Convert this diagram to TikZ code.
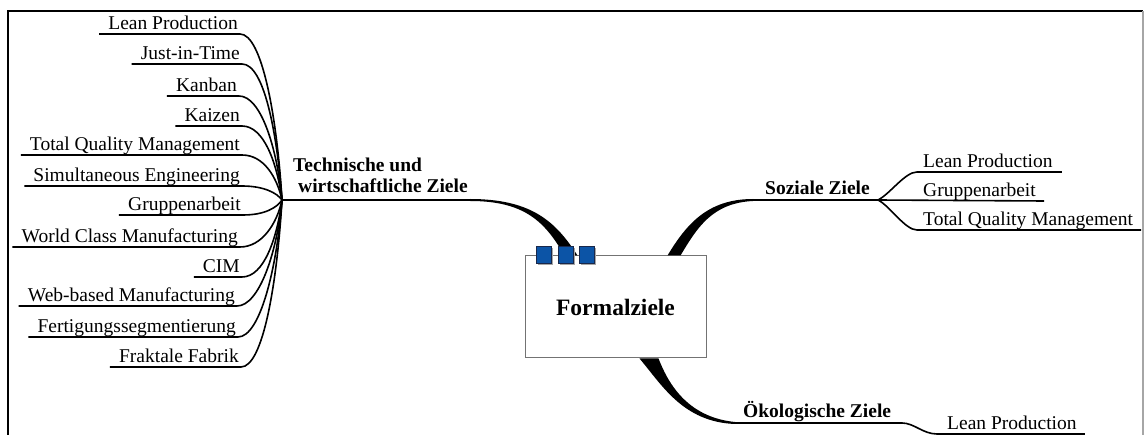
\documentclass[tikz,border=0pt]{standalone}
\usepackage{fontspec}
\setmainfont{Liberation Serif}
\usetikzlibrary{calc,shadows}
\definecolor{sqblue}{RGB}{12,84,166}
\definecolor{sqedge}{RGB}{25,40,75}
\tikzset{
  leaf/.style={font=\fontsize{19.5}{21}\selectfont, inner xsep=0pt, inner ysep=4pt, text height=13pt, text depth=0pt},
  mainlbl/.style={font=\fontsize{19.5}{21}\selectfont\bfseries, inner sep=0pt},
  twig/.style={line width=1.6pt, black},
  stem/.style={line width=2pt, black},
  wedge/.style={fill=black},
  sq/.style={draw=sqedge, fill=sqblue, minimum width=15pt, minimum height=17pt, inner sep=0pt, line width=0.8pt,
    drop shadow={shadow xshift=2pt, shadow yshift=-2pt, fill=black!35, opacity=1}},
  centerbox/.style={draw=black!55, fill=white, line width=1pt, minimum width=181pt, minimum height=102pt, inner sep=0pt,
    font=\fontsize{23.5}{26}\selectfont\bfseries},
}
\begin{document}
\begin{tikzpicture}[x=1pt,y=-1pt]
\useasboundingbox (0,0) rectangle (1144,435);
% frame
\draw[line width=1.5pt] (8,435) -- (8,11) -- (1143,11);
\draw[line width=1.2pt, black!35] (1143,11) -- (1143,435);

% central box
\node[centerbox] (box) at (615.5,307) {Formalziele};

% hubs and branch points
\coordinate (hubL) at (282,200);
\coordinate (techR) at (470,200);
\coordinate (sozL) at (753,200);
\coordinate (hubR) at (878,200);
\coordinate (okoL) at (733,423);
\coordinate (okoR) at (902,423);

% left main branch
\draw[stem] (hubL) -- (techR);
\fill[wedge] ($(techR)+(0,-1)$) .. controls (532,199) and (556,222) .. ($(box.north west)+(53,0)$)
  -- ($(box.north west)+(40,0)$) .. controls (545,222) and (525,201) .. ($(techR)+(0,1)$) -- cycle;

% right main branch
\draw[stem] (sozL) -- (hubR);
\fill[wedge] ($(sozL)+(0,-1)$) .. controls (707,199) and (686,225) .. ($(box.north west)+(143,0)$)
  -- ($(box.north west)+(156,0)$) .. controls (697,228) and (712,203) .. ($(sozL)+(0,1)$) -- cycle;

% bottom main branch
\draw[stem] (okoL) -- (okoR);
\fill[wedge] ($(box.south west)+(134,0)$) .. controls (667,380) and (685,417) .. ($(okoL)+(2,-1)$)
  -- ($(okoL)+(2,1)$) .. controls (683,422) and (662,385) .. ($(box.south west)+(115,0)$) -- cycle;

% squares on the box
\node[sq] (s1) at ($(box.north west)+(19,-0.5)$) {};
\node[sq] (s2) at ($(box.north west)+(41,-0.5)$) {};
\node[sq] (s3) at ($(box.north west)+(62,-0.5)$) {};

% main labels
\node[mainlbl, anchor=south west, align=left] (tech) at (293,193) {Technische und\\\hspace{5pt}wirtschaftliche Ziele};
\node[mainlbl, anchor=base west] (soz) at (765,195) {Soziale Ziele};
\node[mainlbl, anchor=base west] (oko) at (743,418) {Ökologische Ziele};

% left leaves
\foreach \n/\t/\x/\y in {l1/Lean Production/238/34, l2/Just-in-Time/240/64, l3/Kanban/237/96, l4/Kaizen/240/126,
  l5/Total Quality Management/240/155, l6/Simultaneous Engineering/240/186, l7/Gruppenarbeit/241/215,
  l8/World Class Manufacturing/238/247, l9/CIM/240/277, l10/Web-based Manufacturing/235/306,
  l11/Fertigungssegmentierung/236/337, l12/Fraktale Fabrik/239/367}{
  \node[leaf, anchor=south east] (\n) at (\x,\y) {\t};
  \draw[twig] ($(\n.south west)+(-9,0)$) -- ($(\n.south east)+(2,0)$)
    .. controls ($(\n.south east)+(24,0)$) and ($(hubL)!0.5!(hubL|-\n.south)+(-5,0)$) .. (hubL);
}

% right leaves
\node[leaf, anchor=south west] (r1) at (923,172) {Lean Production};
\node[leaf, anchor=south west] (r2) at (923,201) {Gruppenarbeit};
\node[leaf, anchor=south west] (r3) at (923,230) {Total Quality Management};
\draw[twig] ($(r1.south east)+(9,0)$) -- ($(r1.south west)+(-6,0)$)
  .. controls ($(r1.south west)+(-18,0)$) and ($(hubR)+(12,-6)$) .. (hubR);
\draw[twig] ($(r2.south east)+(8,0)$) -- (hubR);
\draw[twig] ($(r3.south east)+(8,0)$) -- ($(r3.south west)+(-6,0)$)
  .. controls ($(r3.south west)+(-18,0)$) and ($(hubR)+(12,6)$) .. (hubR);

% bottom leaf
\node[leaf, anchor=south west] (b1) at (947,434) {Lean Production};
\draw[twig] ($(b1.south east)+(8,0)$) -- ($(b1.south west)+(-10,0)$)
  .. controls ($(b1.south west)+(-24,0)$) and ($(okoR)+(12,0)$) .. (okoR);
\end{tikzpicture}
\end{document}
